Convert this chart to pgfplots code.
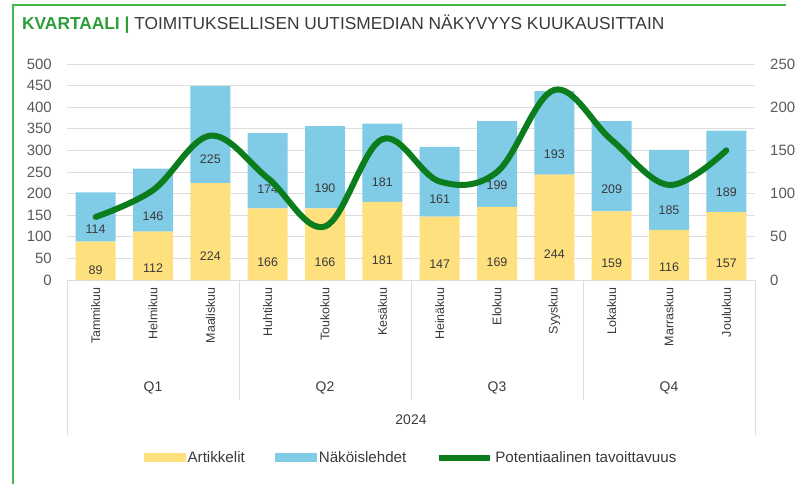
\documentclass[border=0pt]{standalone}
\usepackage{pgfplots}
\pgfplotsset{compat=1.18}
\usepackage{pgfplotstable}
\usepackage{fontspec}
\setmainfont{Liberation Sans}
\definecolor{cyel}{HTML}{FFE07E}
\definecolor{cblu}{HTML}{80CBE6}
\definecolor{cgrn}{HTML}{0B7D1C}
\definecolor{cframe}{HTML}{43B649}
\definecolor{ctitle}{HTML}{2E9E3A}
\definecolor{ctxt}{HTML}{3A3A3A}
\definecolor{cgrid}{HTML}{DDDDDD}
\definecolor{ctick}{HTML}{595959}
\pgfplotsset{
  mybarlegend/.style={legend image code/.code={\fill[##1] (0bp,-4.5bp) rectangle (42bp,4.5bp);}},
  mylinelegend/.style={legend image code/.code={\draw[##1] (0bp,0bp) -- (51bp,0bp);}},
}

\pgfplotstableread{
x art nak pot
0 89 114 73
1 112 146 104
2 224 225 167
3 166 174 118
4 166 190 62
5 181 181 163
6 147 161 114
7 169 199 125
8 244 193 220
9 159 209 162
10 116 185 110
11 157 189 150
}\datatable

\begin{document}
\begin{tikzpicture}
\useasboundingbox (0bp,0bp) rectangle (796bp,-484bp);
\draw[cframe, line width=1.5bp] (786bp,-5bp) -- (13bp,-5bp) -- (13bp,-484bp);
\node[anchor=base west, inner sep=0pt, font=\fontsize{17.4}{17.4}\selectfont] at (22bp,-29bp) {\textcolor{ctitle}{\bfseries KVARTAALI |} \textcolor{ctxt}{TOIMITUKSELLISEN UUTISMEDIAN NÄKYVYYS KUUKAUSITTAIN}};
\begin{axis}[
  at={(67bp,-280bp)}, anchor=south west,
  scale only axis, width=688bp, height=216bp,
  xmin=-0.5, xmax=11.5, ymin=0, ymax=500,
  /pgf/number format/assume math mode=true,
  ybar stacked, bar width=40bp,
  axis line style={draw=none},
  ytick={0,50,...,500}, ytick pos=left,
  ymajorgrids, grid style={cgrid, line width=0.8bp},
  tick style={draw=none},
  yticklabel style={font=\fontsize{15}{15}\selectfont, color=ctick, inner sep=0pt, xshift=-15bp},
  xtick={0,...,11},
  xticklabels={Tammikuu,Helmikuu,Maaliskuu,Huhtikuu,Toukokuu,Kesäkuu,Heinäkuu,Elokuu,Syyskuu,Lokakuu,Marraskuu,Joulukuu},
  xticklabel style={font=\fontsize{12.5}{12.5}\selectfont, color=ctxt, yshift=-7bp, rotate=90, anchor=east, inner sep=0pt},
  clip=false,
  legend style={at={(0.5,-0.822)}, anchor=center, draw=none, fill=none, legend columns=3,
    font=\fontsize{15.2}{15.2}\selectfont, text=ctxt,
    /tikz/every even column/.append style={column sep=28bp}},
  mybarlegend,
  nodes near coords,
  every node near coord/.append style={font=\fontsize{12.5}{12.5}\selectfont, color=ctxt, anchor=center},
]
\addplot[fill=cyel, draw=none, point meta=\thisrow{art},
  visualization depends on={\thisrow{art} \as \segh},
  every node near coord/.append style={yshift={-0.108bp*\segh}}]
  table[x=x,y=art] {\datatable};
\addlegendentry{Artikkelit}
\addplot[fill=cblu, draw=none, point meta=\thisrow{nak},
  visualization depends on={\thisrow{nak} \as \segh},
  every node near coord/.append style={yshift={-0.108bp*\segh}}]
  table[x=x,y=nak] {\datatable};
\addlegendentry{Näköislehdet}
\addlegendimage{cgrn, line width=6bp, mylinelegend}
\addlegendentry{Potentiaalinen tavoittavuus}
\end{axis}
\begin{axis}[
  at={(67bp,-280bp)}, anchor=south west,
  scale only axis, width=688bp, height=216bp,
  xmin=-0.5, xmax=11.5, ymin=0, ymax=250,
  /pgf/number format/assume math mode=true,
  axis line style={draw=none}, hide x axis,
  ytick={0,50,...,250}, ytick pos=right, yticklabel pos=right,
  tick style={draw=none},
  yticklabel style={font=\fontsize{15}{15}\selectfont, color=ctick, inner sep=0pt, xshift=15bp, anchor=west},
  clip=false,
]
\addplot[cgrn, line width=6bp, line cap=round, smooth, tension=0.6] table[x=x,y=pot] {\datatable};
\end{axis}
\draw[cgrid, line width=0.8bp] (67bp,-280bp) -- (67bp,-435bp) (755bp,-280bp) -- (755bp,-435bp)
  (239bp,-280bp) -- (239bp,-400bp) (411bp,-280bp) -- (411bp,-400bp) (583bp,-280bp) -- (583bp,-400bp);
\begin{scope}[every node/.style={font=\fontsize{14}{14}\selectfont, text=ctxt, inner sep=0pt}]
\node at (153bp,-388bp) {Q1};
\node at (325bp,-388bp) {Q2};
\node at (497bp,-388bp) {Q3};
\node at (669bp,-388bp) {Q4};
\node at (411bp,-420bp) {2024};
\end{scope}
\end{tikzpicture}
\end{document}
